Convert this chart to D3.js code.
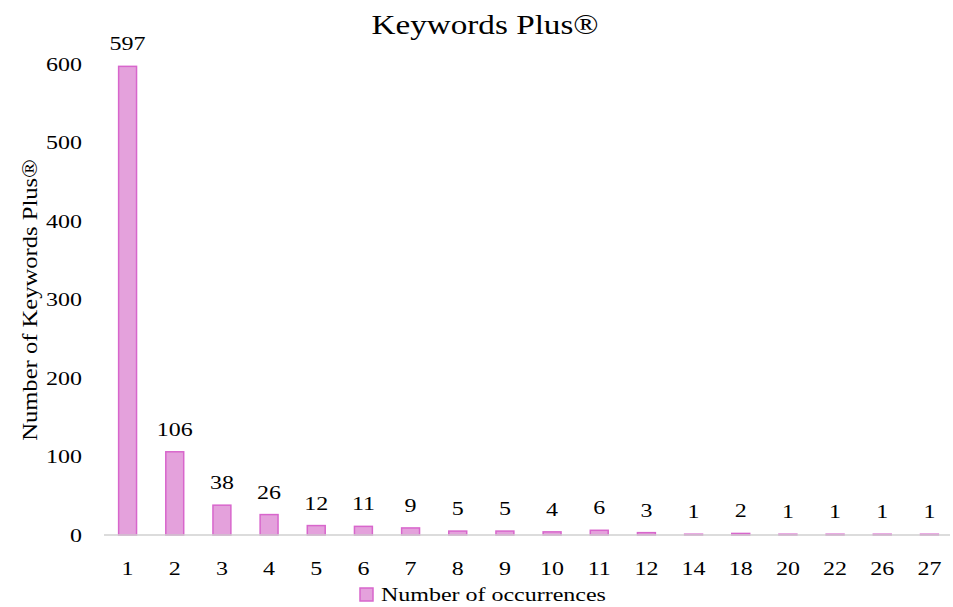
<!DOCTYPE html>
<html>
<head>
<meta charset="utf-8">
<script src="https://cdn.jsdelivr.net/npm/d3@7"></script>
<style>
  body { margin: 0; background: #fff; }
  text { font-family: "Liberation Serif", "DejaVu Serif", serif; fill: #000; }
</style>
</head>
<body>
<script>
// occurrences (x categories) and number of keywords
var categories = ["1", "2", "3", "4", "5", "6", "7", "8", "9", "10", "11", "12", "14", "18", "20", "22", "26", "27"];
var counts = [597, 106, 38, 26, 12, 11, 9, 5, 5, 4, 6, 3, 1, 2, 1, 1, 1, 1];
var yTicks = [0, 100, 200, 300, 400, 500, 600];

var width = 953, height = 607;
var margin = { top: 64, right: 0, bottom: 72, left: 104 };
var stretch = 1.23; // the original text is wide, widen the glyphs a bit

var svg = d3.select("body").append("svg")
  .attr("width", width)
  .attr("height", height);

var x = d3.scaleBand()
  .domain(categories)
  .range([margin.left, width - margin.right])
  .paddingInner(0.62)
  .paddingOuter(0.31);

var y = d3.scaleLinear()
  .domain([0, 600])
  .range([height - margin.bottom, margin.top]);

function place(px, py) {
  return "translate(" + px + "," + py + ") scale(" + stretch + ",1)";
}

// title
svg.append("text")
  .attr("transform", place(485, 34))
  .attr("text-anchor", "middle")
  .style("font-size", "27px")
  .text("Keywords Plus®");

// y axis labels (no line)
svg.selectAll(".ytick")
  .data(yTicks)
  .enter().append("text")
  .attr("class", "ytick")
  .attr("transform", function(d) { return place(82, y(d)); })
  .attr("dy", "0.34em")
  .attr("text-anchor", "end")
  .style("font-size", "19.5px")
  .text(function(d) { return d; });

// y axis title
svg.append("text")
  .attr("transform", "translate(37,300) rotate(-90) scale(" + stretch + ",1)")
  .attr("text-anchor", "middle")
  .style("font-size", "20px")
  .text("Number of Keywords Plus®");

// bars
svg.selectAll(".bar")
  .data(counts)
  .enter().append("rect")
  .attr("class", "bar")
  .attr("x", function(d, i) { return x(categories[i]); })
  .attr("y", function(d) { return y(d); })
  .attr("width", x.bandwidth())
  .attr("height", function(d) { return y(0) - y(d); })
  .attr("fill", "#e4a1dc")
  .attr("stroke", "#d866cc")
  .attr("stroke-width", 1.5);

// x axis line
svg.append("line")
  .attr("x1", margin.left).attr("x2", width - 3)
  .attr("y1", y(0)).attr("y2", y(0))
  .attr("stroke", "#d0d0d0")
  .attr("stroke-width", 1.5);

// x tick labels
svg.selectAll(".xtick")
  .data(categories)
  .enter().append("text")
  .attr("class", "xtick")
  .attr("transform", function(d) { return place(x(d) + x.bandwidth() / 2, 575); })
  .attr("text-anchor", "middle")
  .style("font-size", "19.5px")
  .text(function(d) { return d; });

// value labels
svg.selectAll(".vlabel")
  .data(counts)
  .enter().append("text")
  .attr("class", "vlabel")
  .attr("transform", function(d, i) {
    return place(x(categories[i]) + x.bandwidth() / 2, y(d) - 16);
  })
  .attr("text-anchor", "middle")
  .style("font-size", "19.5px")
  .text(function(d) { return d; });

// legend
svg.append("rect")
  .attr("x", 360).attr("y", 588)
  .attr("width", 13).attr("height", 13)
  .attr("fill", "#e4a1dc")
  .attr("stroke", "#d866cc")
  .attr("stroke-width", 1.5);
svg.append("text")
  .attr("transform", place(381, 601))
  .style("font-size", "19.5px")
  .text("Number of occurrences");
</script>
</body>
</html>
